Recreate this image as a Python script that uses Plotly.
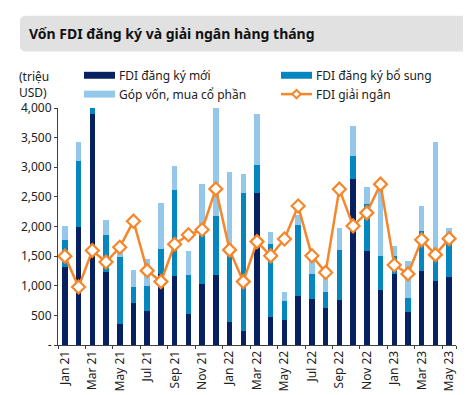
import plotly.graph_objects as go

months = ["Jan 21", "Feb 21", "Mar 21", "Apr 21", "May 21", "Jun 21", "Jul 21", "Aug 21",
          "Sep 21", "Oct 21", "Nov 21", "Dec 21", "Jan 22", "Feb 22", "Mar 22", "Apr 22",
          "May 22", "Jun 22", "Jul 22", "Aug 22", "Sep 22", "Oct 22", "Nov 22", "Dec 22",
          "Jan 23", "Feb 23", "Mar 23", "Apr 23", "May 23"]

fdi_new = [1315, 1985, 3900, 1225, 360, 715, 575, 1190, 1165, 520, 1030, 1180, 380, 240,
           2570, 480, 415, 825, 770, 625, 765, 2800, 1580, 920, 1200, 565, 1255, 1075, 1150]
fdi_add = [465, 1125, 150, 640, 1120, 260, 425, 435, 1445, 655, 910, 995, 1180, 2320,
           470, 1220, 320, 1200, 430, 270, 840, 385, 805, 585, 295, 220, 675, 405, 595]
capital = [225, 320, 0, 245, 260, 295, 450, 775, 410, 415, 780, 1850, 1355, 330,
           865, 210, 160, 165, 240, 320, 375, 515, 285, 1145, 180, 630, 415, 1945, 230]
disbursed = [1500, 980, 1595, 1400, 1650, 2090, 1255, 1070, 1700, 1860, 1945, 2635, 1605, 1070,
             1745, 1505, 1790, 2345, 1505, 1225, 2630, 2010, 2230, 2715, 1350, 1200, 1775, 1525, 1795]

y_tickvals = [0, 500, 1000, 1500, 2000, 2500, 3000, 3500, 4000]
y_ticktext = ["-", "500", "1,000", "1,500", "2,000", "2,500", "3,000", "3,500", "4,000"]
x_ticks = months[::2]

names = ["FDI đăng ký mới", "FDI đăng ký bổ sung", "Góp vốn, mua cổ phần", "FDI giải ngân"]
title_text = "Vốn FDI đăng ký và giải ngân hàng tháng"
unit_text = "(triệu<br>USD)"

C_NAVY = "#062060"
C_MID = "#0686be"
C_LIGHT = "#93c8ea"
C_ORANGE = "#f5862a"

W, H = 471, 395
ML, MR, MT, MB = 50, 23, 100, 56
PW, PH = W - ML - MR, H - MT - MB


def px(x):
    return (x - ML) / PW


def py(y):
    return (H - MB - y) / PH


fig = go.Figure()
for vals, col, nm in [(fdi_new, C_NAVY, names[0]), (fdi_add, C_MID, names[1]), (capital, C_LIGHT, names[2])]:
    fig.add_trace(go.Bar(x=months, y=vals, marker=dict(color=col, line=dict(width=0)),
                         name=nm, showlegend=False))
fig.add_trace(go.Scatter(x=months, y=disbursed, mode="lines+markers", name=names[3],
                         line=dict(color=C_ORANGE, width=2.5),
                         marker=dict(symbol="diamond", size=10, color="white",
                                     line=dict(color=C_ORANGE, width=2.2)),
                         showlegend=False, cliponaxis=False))

shapes = []
# title box (rounded)
x0, x1, y0, y1, r = 12, 460, 7, 43, 6
pts = (f"M {px(x0 + r)},{py(y0)} L {px(x1 - r)},{py(y0)} Q {px(x1)},{py(y0)} {px(x1)},{py(y0 + r)} "
       f"L {px(x1)},{py(y1 - r)} Q {px(x1)},{py(y1)} {px(x1 - r)},{py(y1)} "
       f"L {px(x0 + r)},{py(y1)} Q {px(x0)},{py(y1)} {px(x0)},{py(y1 - r)} "
       f"L {px(x0)},{py(y0 + r)} Q {px(x0)},{py(y0)} {px(x0 + r)},{py(y0)} Z")
shapes.append(dict(type="path", xref="paper", yref="paper", path=pts,
                   fillcolor="#e1e1e1", line=dict(width=0), layer="below"))

# legend
leg = [(76, 67, C_NAVY, names[0], "bar"), (273, 67, C_MID, names[1], "bar"),
       (76, 86, C_LIGHT, names[2], "bar"), (273, 86, C_ORANGE, names[3], "line")]
annotations = []
for lx, ly, col, nm, kind in leg:
    if kind == "bar":
        shapes.append(dict(type="rect", xref="paper", yref="paper",
                           x0=px(lx), x1=px(lx + 31), y0=py(ly - 3.5), y1=py(ly + 3.5),
                           fillcolor=col, line=dict(width=0)))
    else:
        shapes.append(dict(type="line", xref="paper", yref="paper",
                           x0=px(lx), x1=px(lx + 31), y0=py(ly), y1=py(ly),
                           line=dict(color=col, width=2.5)))
        cx, cy, d = lx + 15.5, ly, 4.2
        path = (f"M {px(cx)},{py(cy - d)} L {px(cx + d)},{py(cy)} L {px(cx)},{py(cy + d)} "
                f"L {px(cx - d)},{py(cy)} Z")
        shapes.append(dict(type="path", xref="paper", yref="paper", path=path,
                           fillcolor="white", line=dict(color=col, width=2)))
    annotations.append(dict(xref="paper", yref="paper", x=px(lx + 33), y=py(ly), text=nm,
                            showarrow=False, xanchor="left", yanchor="middle",
                            font=dict(size=12, color="#222222")))

annotations.append(dict(xref="paper", yref="paper", x=px(19), y=py(25), text="<b>" + title_text + "</b>",
                        showarrow=False, xanchor="left", yanchor="middle",
                        font=dict(size=14, color="#111111")))
annotations.append(dict(xref="paper", yref="paper", x=px(9), y=py(76), text=unit_text,
                        showarrow=False, xanchor="left", yanchor="middle", align="left",
                        font=dict(size=12, color="#222222")))

fig.update_layout(
    width=W, height=H, margin=dict(l=ML, r=MR, t=MT, b=MB),
    barmode="stack", bargap=0.6,
    paper_bgcolor="white", plot_bgcolor="white",
    font=dict(family="Noto Sans, Open Sans, sans-serif", size=12, color="#222222"),
    shapes=shapes, annotations=annotations,
    xaxis=dict(type="category", tickmode="array", tickvals=x_ticks, ticktext=x_ticks,
               tickangle=-90, tickson="boundaries", ticks="outside", ticklen=3,
               tickcolor="#404040", showline=True, linecolor="#404040", linewidth=1,
               showgrid=False, range=[-0.5, len(months) - 0.5],
               tickfont=dict(size=12, color="#222222")),
    yaxis=dict(range=[0, 4000], tickmode="array", tickvals=y_tickvals, ticktext=y_ticktext,
               ticks="outside", ticklen=3, tickcolor="#404040", showline=True,
               linecolor="#404040", linewidth=1, showgrid=False, zeroline=False,
               tickfont=dict(size=12, color="#222222")),
)

fig.write_html("out.html")
